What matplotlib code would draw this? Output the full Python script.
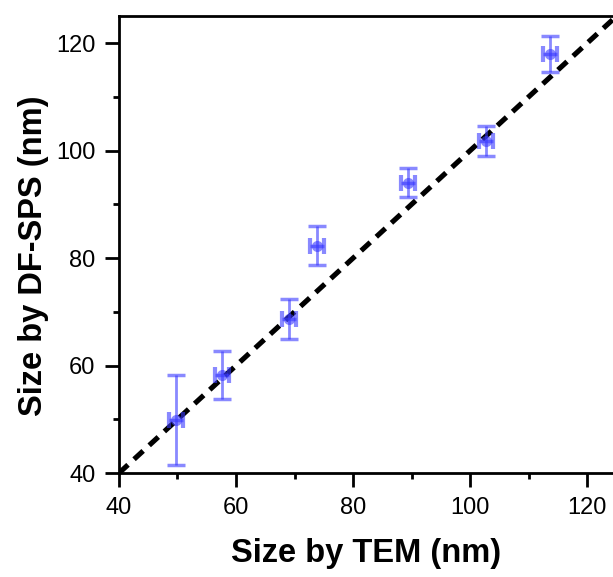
import numpy as np
import matplotlib.pyplot as plt
from matplotlib.ticker import MultipleLocator

plt.rcParams['font.family'] = ['Liberation Sans', 'DejaVu Sans']

# sizes (nm)
tem_size = [49.7, 57.6, 69.1, 73.8, 89.4, 102.7, 113.7]
tem_err = [1.2, 1.2, 1.2, 1.2, 1.2, 1.2, 1.2]
sps_size = [49.9, 58.3, 68.7, 82.3, 94.0, 101.8, 118.0]
sps_err = [8.4, 4.5, 3.7, 3.6, 2.7, 2.8, 3.4]

fig = plt.figure(figsize=(6.13, 5.77), dpi=100)
ax = fig.add_axes([0.194, 0.180, 0.806, 0.792])

# reference line y = x
ref = np.array([40, 130])
ax.plot(ref, ref, color="black", linestyle=(0, (2.4, 1.6)), linewidth=3.7, zorder=2)

blue = "#3a3aff"
# vertical error bars (wide caps)
ax.errorbar(tem_size, sps_size, yerr=sps_err, fmt="none", ecolor=blue, alpha=0.6,
            elinewidth=2, capsize=6.5, capthick=2.5, zorder=3)
# horizontal error bars
ax.errorbar(tem_size, sps_size, xerr=tem_err, fmt="none", ecolor=blue, alpha=0.6,
            elinewidth=2.5, capsize=5.5, capthick=3, zorder=3)
ax.plot(tem_size, sps_size, "o", color=blue, alpha=0.6, markersize=8,
        markeredgewidth=0, zorder=4)

ax.set_xlim(40, 124.4)
ax.set_ylim(40, 125)
ax.xaxis.set_major_locator(MultipleLocator(20))
ax.xaxis.set_minor_locator(MultipleLocator(10))
ax.yaxis.set_major_locator(MultipleLocator(20))
ax.yaxis.set_minor_locator(MultipleLocator(10))

ax.spines["right"].set_visible(False)
for s in ["left", "bottom", "top"]:
    ax.spines[s].set_linewidth(2)
ax.tick_params(which="major", direction="out", length=10, width=2, labelsize=17, pad=7)
ax.tick_params(which="minor", direction="out", length=4.5, width=2)
ax.tick_params(top=False, right=False, which="both")

ax.set_xlabel("Size by TEM (nm)", fontsize=23.5, fontweight="bold", labelpad=14)
ax.set_ylabel("Size by DF-SPS (nm)", fontsize=23.5, fontweight="bold", labelpad=5)
ax.yaxis.label.set_y(0.475)

fig.savefig("out.png", dpi=100)
